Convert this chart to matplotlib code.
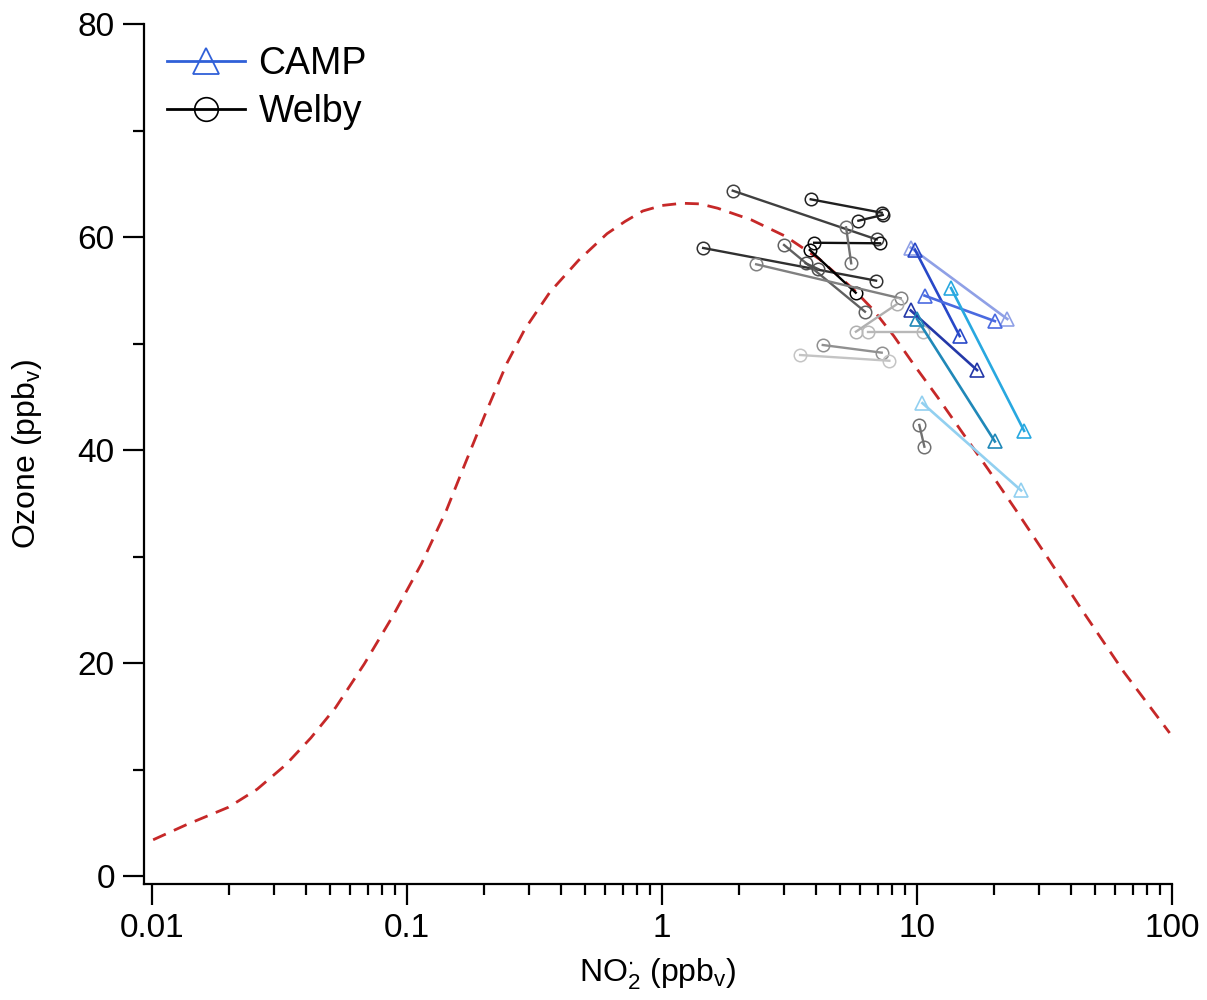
import matplotlib
matplotlib.use("Agg")
import matplotlib.pyplot as plt
from matplotlib.lines import Line2D
from matplotlib.ticker import LogLocator, NullFormatter, FixedLocator

plt.rcParams['font.family'] = ['Liberation Sans', 'DejaVu Sans']
plt.rcParams['mathtext.fontset'] = 'custom'
plt.rcParams['mathtext.rm'] = 'Liberation Sans'
plt.rcParams['mathtext.it'] = 'Liberation Sans:italic'
plt.rcParams['mathtext.bf'] = 'Liberation Sans:bold'

# ---- model curve (dashed red) ----
curve_no2 = [0.0101, 0.01356, 0.01995, 0.02581, 0.03344, 0.04193, 0.05248, 0.06796,
             0.08798, 0.1138, 0.1427, 0.1677, 0.2034, 0.2467, 0.2900, 0.3638, 0.4701,
             0.6085, 0.716, 0.8402, 1.0, 1.198, 1.41, 1.654, 2.245, 3.048, 4.139, 5.616,
             6.745, 8.10, 9.73, 12.06, 15.88, 19.07, 24.36, 33.05, 44.89, 64.77, 97.9]
curve_o3 = [3.40, 4.79, 6.46, 8.14, 10.44, 12.96, 15.82, 19.91, 24.41, 29.30, 34.34,
            38.53, 43.47, 48.17, 51.36, 54.84, 57.80, 60.31, 61.46, 62.44, 62.96, 63.17,
            63.11, 62.70, 61.60, 60.07, 57.93, 55.12, 53.15, 50.72, 48.00, 44.94, 40.85,
            38.14, 34.40, 29.64, 24.79, 19.15, 13.43]

# ---- CAMP pairs (start, end) ----
camp_no2_start = [9.45, 9.82, 10.7, 13.6, 9.45, 10.0, 10.5]
camp_no2_end   = [22.6, 14.7, 20.2, 26.3, 17.2, 20.2, 25.6]
camp_o3_start  = [59.0, 58.8, 54.5, 55.2, 53.1, 52.3, 44.4]
camp_o3_end    = [52.3, 50.7, 52.1, 41.8, 47.5, 40.8, 36.2]
camp_colors = ['#8fa0e6', '#2848c8', '#4a6ae0', '#28a8e0', '#2438a8', '#2088b8', '#92d0f0']

# ---- Welby pairs (start, end) ----
welby_no2_start = [3.83, 5.89, 1.894, 3.95, 5.27, 1.45, 3.80, 3.01, 2.34, 8.32, 6.41, 4.27, 3.48, 10.21, 3.66]
welby_no2_end   = [7.27, 7.34, 6.95, 7.16, 5.52, 6.91, 5.75, 6.25, 8.63, 5.76, 10.59, 7.27, 7.79, 10.69, 4.10]
welby_o3_start  = [63.54, 61.53, 64.35, 59.46, 60.91, 58.97, 58.78, 59.25, 57.44, 53.68, 51.11, 49.86, 48.92, 42.35, 57.53]
welby_o3_end    = [62.28, 62.07, 59.77, 59.41, 57.53, 55.90, 54.77, 52.99, 54.24, 51.11, 51.11, 49.14, 48.38, 40.31, 56.99]
welby_colors = ['#202020', '#202020', '#404040', '#101010', '#707070', '#303030', '#000000',
                '#606060', '#808080', '#b0b0b0', '#b8b8b8', '#909090', '#c4c4c4', '#707070', '#505050']

fig = plt.figure(figsize=(12.07, 10.0), dpi=100)
ax = fig.add_axes([144/1207, 1-884/1000, (1172-144)/1207, (884-24)/1000])

ax.plot(curve_no2, curve_o3, color='#c62828', lw=2.0, ls=(0, (5, 3.2)), zorder=2)

for x0, x1, y0, y1, c in zip(welby_no2_start, welby_no2_end, welby_o3_start, welby_o3_end, welby_colors):
    ax.plot([x0, x1], [y0, y1], color=c, lw=1.7, marker='o', ms=9,
            mfc='none', mec=c, mew=1.1, zorder=3)

for x0, x1, y0, y1, c in zip(camp_no2_start, camp_no2_end, camp_o3_start, camp_o3_end, camp_colors):
    ax.plot([x0, x1], [y0, y1], color=c, lw=1.9, marker='^', ms=9.5,
            mfc='none', mec=c, mew=1.2, zorder=4)

ax.set_xscale('log')
ax.set_xlim(0.0093, 100)
ax.set_ylim(-0.75, 80)

for s in ['top', 'right']:
    ax.spines[s].set_visible(False)
for s in ['left', 'bottom']:
    ax.spines[s].set_linewidth(1.6)

ax.xaxis.set_major_locator(FixedLocator([0.01, 0.1, 1, 10, 100]))
ax.set_xticklabels(['0.01', '0.1', '1', '10', '100'])
ax.xaxis.set_minor_locator(LogLocator(base=10, subs=range(2, 10), numticks=20))
ax.xaxis.set_minor_formatter(NullFormatter())
ax.yaxis.set_major_locator(FixedLocator([0, 20, 40, 60, 80]))
ax.yaxis.set_minor_locator(FixedLocator([10, 30, 50, 70]))

ax.tick_params(axis='both', which='major', direction='out', length=15, width=1.6,
               labelsize=24, pad=6)
ax.tick_params(axis='both', which='minor', direction='out', length=8, width=1.6)

ax.set_xlabel(r'NO$_2^{\bullet}$ (ppb$_\mathrm{v}$)', fontsize=23, labelpad=9)
ax.set_ylabel(r'Ozone (ppb$_\mathrm{v}$)', fontsize=23, labelpad=24)

handles = [
    Line2D([0], [0], color='#3060d8', lw=2, marker='^', ms=19, mfc='none', mec='#3060d8', mew=1.3),
    Line2D([0], [0], color='#000000', lw=2, marker='o', ms=17, mfc='none', mec='#000000', mew=1.2),
]
ax.legend(handles, ['CAMP', 'Welby'], loc='upper left', bbox_to_anchor=(0.0, 1.0),
          frameon=False, fontsize=27, handlelength=2.1, handletextpad=0.35,
          labelspacing=0.3, borderaxespad=0.2)

fig.savefig('out.png', dpi=100)
